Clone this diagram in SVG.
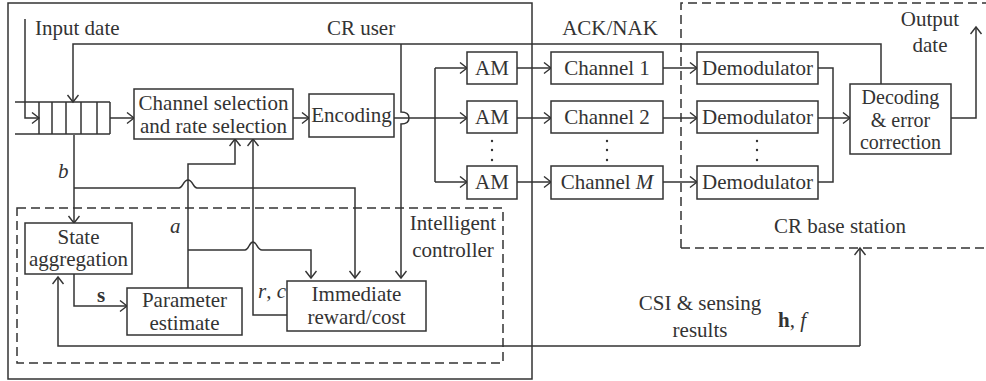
<svg xmlns="http://www.w3.org/2000/svg" width="986" height="381" viewBox="0 0 986 381">
  <defs>
    <marker id="arr" markerUnits="userSpaceOnUse" markerWidth="14" markerHeight="14" refX="10" refY="6" orient="auto">
      <path d="M3,0.5 L10,6 L3,11.5" fill="none" stroke="#333" stroke-width="1.4"/>
    </marker>
  </defs>
  <style>
    text { font-family: "Liberation Serif", "Times New Roman", serif; font-size: 21px; fill: #333; }
    .sm { font-size: 20px; }
    .box { fill: #fff; stroke: #333; stroke-width: 1.5; }
    .frame { fill: none; stroke: #333; stroke-width: 1.5; }
    .dash { fill: none; stroke: #333; stroke-width: 1.5; stroke-dasharray: 9 5; }
    .ln { fill: none; stroke: #333; stroke-width: 1.5; }
    .ar { fill: none; stroke: #333; stroke-width: 1.5; marker-end: url(#arr); }
    .c { text-anchor: middle; }
    .i { font-style: italic; }
    .b { font-weight: bold; }
  </style>

  <rect width="986" height="381" fill="#fff"/>

  <!-- enclosing regions -->
  <g id="cr-user">
    <rect class="frame" x="8" y="3" width="524" height="376"/>
    <text x="361" y="35" class="c">CR user</text>
  </g>
  <g id="cr-base-station">
    <path class="dash" d="M681,248 L681,3 L990,3 M681,248 L990,248"/>
    <text x="840" y="233" class="c">CR base station</text>
  </g>
  <g id="intelligent-controller">
    <rect class="dash" x="17" y="208" width="486" height="155"/>
    <text x="453" y="230" class="c">Intelligent</text>
    <text x="453" y="257" class="c">controller</text>
  </g>

  <!-- connectors -->
  <g id="connectors">
    <!-- input data into queue -->
    <path class="ar" d="M25,19 L25,118 L39,118"/>
    <!-- ACK/NAK feedback to queue -->
    <path class="ar" d="M881,84 L881,44 L73,44 L73,102"/>
    <!-- ACK/NAK to immediate reward, hopping the encoder output -->
    <path class="ar" d="M401,44 L401,112 C407,112 409,115 409,118 C409,121 407,124 401,124 L401,278"/>
    <!-- queue to channel selection -->
    <path class="ar" d="M110,118 L134,118"/>
    <!-- channel selection to encoding -->
    <path class="ar" d="M293,118 L309,118"/>
    <!-- encoding to AM bank -->
    <path class="ln" d="M394,118 L435,118 M435,68 L435,182"/>
    <path class="ar" d="M435,68 L467,68"/>
    <path class="ar" d="M435,118 L467,118"/>
    <path class="ar" d="M435,182 L467,182"/>
    <!-- AM to channels -->
    <path class="ar" d="M517,68 L551,68"/>
    <path class="ar" d="M517,118 L551,118"/>
    <path class="ar" d="M517,182 L551,182"/>
    <!-- channels to demodulators -->
    <path class="ar" d="M663,68 L697,68"/>
    <path class="ar" d="M663,118 L697,118"/>
    <path class="ar" d="M663,182 L697,182"/>
    <!-- demodulators to decoding -->
    <path class="ln" d="M818,68 L833,68 L833,182 L818,182"/>
    <path class="ar" d="M818,118 L850,118"/>
    <!-- output data -->
    <path class="ar" d="M951,118 L976,118 L976,27"/>
    <!-- b: queue state -->
    <path class="ar" d="M74,135 L74,223"/>
    <path class="ar" d="M74,188 L179,188 C183,188 183,180 188,180 C193,180 193,188 197,188 L355,188 L355,278"/>
    <!-- a: action from parameter estimate -->
    <path class="ar" d="M188,288 L188,164 L235,164 L235,139"/>
    <path class="ar" d="M188,250 L245,250 C249,250 249,242 253,242 C257,242 257,250 262,250 L311,250 L311,278"/>
    <!-- r, c: reward/cost back to channel selection -->
    <path class="ar" d="M287,315 L253,315 L253,139"/>
    <!-- s: aggregated state -->
    <path class="ar" d="M74,274 L74,306 L127,306"/>
    <!-- CSI & sensing results -->
    <path class="ar" d="M860,346 L58,346 L58,277"/>
    <path class="ar" d="M860,346 L860,248"/>
  </g>

  <!-- nodes -->
  <g id="queue">
    <path class="ln" d="M15,102 L110,102 M15,134 L110,134 M39,102 L39,134 M52,102 L52,134 M66,102 L66,134 M81,102 L81,134 M97,102 L97,134 M110,102 L110,134"/>
    <text x="35" y="35">Input date</text>
  </g>
  <g id="channel-selection">
    <rect class="box" x="134" y="89" width="159" height="50"/>
    <text x="213.5" y="110" class="c">Channel selection</text>
    <text x="213.5" y="133" class="c">and rate selection</text>
  </g>
  <g id="encoding">
    <rect class="box" x="309" y="94" width="85" height="43"/>
    <text x="351.5" y="122" class="c">Encoding</text>
  </g>
  <g id="am-1">
    <rect class="box" x="467" y="52" width="50" height="32"/>
    <text x="492" y="75" class="c">AM</text>
  </g>
  <g id="am-2">
    <rect class="box" x="467" y="101" width="50" height="32"/>
    <text x="492" y="124" class="c">AM</text>
  </g>
  <g id="am-m">
    <rect class="box" x="467" y="166" width="50" height="33"/>
    <text x="492" y="189" class="c">AM</text>
  </g>
  <g id="channel-1">
    <rect class="box" x="551" y="52" width="112" height="32"/>
    <text x="607" y="75" class="c">Channel 1</text>
  </g>
  <g id="channel-2">
    <rect class="box" x="551" y="101" width="112" height="32"/>
    <text x="607" y="124" class="c">Channel 2</text>
  </g>
  <g id="channel-m">
    <rect class="box" x="551" y="166" width="112" height="33"/>
    <text x="607" y="189" class="c">Channel <tspan class="i">M</tspan></text>
  </g>
  <g id="demodulator-1">
    <rect class="box" x="697" y="52" width="121" height="32"/>
    <text x="757.5" y="75" class="c">Demodulator</text>
  </g>
  <g id="demodulator-2">
    <rect class="box" x="697" y="101" width="121" height="32"/>
    <text x="757.5" y="124" class="c">Demodulator</text>
  </g>
  <g id="demodulator-m">
    <rect class="box" x="697" y="166" width="121" height="33"/>
    <text x="757.5" y="189" class="c">Demodulator</text>
  </g>
  <g id="ellipses">
    <circle cx="492" cy="141" r="1.2" fill="#333"/>
    <circle cx="492" cy="150" r="1.2" fill="#333"/>
    <circle cx="492" cy="160" r="1.2" fill="#333"/>
    <circle cx="607" cy="141" r="1.2" fill="#333"/>
    <circle cx="607" cy="150" r="1.2" fill="#333"/>
    <circle cx="607" cy="160" r="1.2" fill="#333"/>
    <circle cx="757" cy="141" r="1.2" fill="#333"/>
    <circle cx="757" cy="150" r="1.2" fill="#333"/>
    <circle cx="757" cy="160" r="1.2" fill="#333"/>
  </g>
  <g id="decoding">
    <rect class="box" x="850" y="84" width="101" height="70"/>
    <text x="900.5" y="104" class="c sm">Decoding</text>
    <text x="900.5" y="127" class="c sm">&amp; error</text>
    <text x="900.5" y="149" class="c sm">correction</text>
  </g>
  <g id="state-aggregation">
    <rect class="box" x="25" y="223" width="107" height="51"/>
    <text x="78.5" y="244" class="c">State</text>
    <text x="78.5" y="266" class="c">aggregation</text>
  </g>
  <g id="parameter-estimate">
    <rect class="box" x="127" y="288" width="115" height="47"/>
    <text x="184.5" y="307" class="c">Parameter</text>
    <text x="184.5" y="330" class="c">estimate</text>
  </g>
  <g id="immediate-reward">
    <rect class="box" x="287" y="281" width="139" height="50"/>
    <text x="356.5" y="301" class="c">Immediate</text>
    <text x="356.5" y="324" class="c">reward/cost</text>
  </g>

  <!-- labels -->
  <g id="labels">
    <text x="610" y="35" class="c">ACK/NAK</text>
    <text x="930" y="26" class="c">Output</text>
    <text x="930" y="52" class="c">date</text>
    <text x="58" y="178" class="i">b</text>
    <text x="170" y="233" class="i">a</text>
    <text x="97" y="302" class="b">s</text>
    <text x="258" y="298" class="i">r<tspan font-style="normal">, </tspan>c</text>
    <text x="700" y="310" class="c">CSI &amp; sensing</text>
    <text x="700" y="337" class="c">results</text>
    <text x="778" y="327"><tspan class="b">h</tspan>, <tspan class="i">f</tspan></text>
  </g>
</svg>
